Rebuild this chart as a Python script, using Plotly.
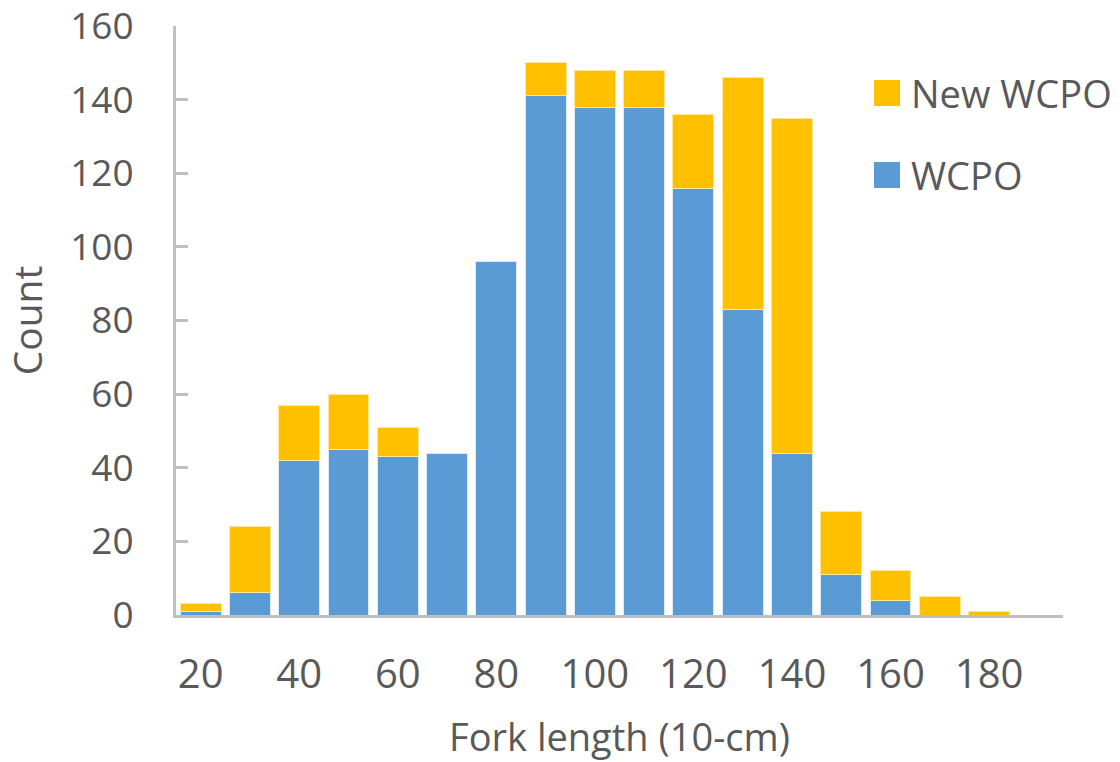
import plotly.graph_objects as go

fork_length = [20, 30, 40, 50, 60, 70, 80, 90, 100, 110, 120, 130, 140, 150, 160, 170, 180, 190]
wcpo =        [1, 6, 42, 45, 43, 44, 96, 141, 138, 138, 116, 83, 44, 11, 4, 0, 0, 0]
new_wcpo =    [2, 18, 15, 15, 8, 0, 0, 9, 10, 10, 20, 63, 91, 17, 8, 5, 1, 0]
x_ticks = [20, 40, 60, 80, 100, 120, 140, 160, 180]
y_ticks = [0, 20, 40, 60, 80, 100, 120, 140, 160]
series_names = ["New WCPO", "WCPO"]
series_colors = ["#FFC000", "#5B9BD5"]

txt = "#595959"
axc = "#BFBFBF"
font = "Open Sans"

fig = go.Figure()
fig.add_trace(go.Bar(x=fork_length, y=wcpo, name="WCPO", showlegend=False,
                     marker=dict(color="#5B9BD5", line=dict(color="#DDEBF7", width=1))))
fig.add_trace(go.Bar(x=fork_length, y=new_wcpo, name="New WCPO", showlegend=False,
                     marker=dict(color="#FFC000", line=dict(color="#FFE699", width=1))))

# manual legend (large swatches like the reference)
W, H = 1120, 762
ml, mr, mt, mb = 176, 57, 26, 147
pw, ph = W - ml - mr, H - mt - mb
def px(x): return (x - ml) / pw
def py(y): return 1 - (y - mt) / ph
for i, (nm, col) in enumerate(zip(series_names, series_colors)):
    top = 80 + i * 82
    fig.add_shape(type="rect", xref="paper", yref="paper",
                  x0=px(874), x1=px(900), y0=py(top + 26), y1=py(top),
                  fillcolor=col, line=dict(width=0))
    fig.add_annotation(xref="paper", yref="paper", x=px(909), y=py(top + 13),
                       xanchor="left", yanchor="middle", text=nm, showarrow=False,
                       font=dict(size=38, color=txt, family=font))

fig.update_layout(
    width=W, height=H,
    barmode="stack", bargap=0.17,
    plot_bgcolor="white", paper_bgcolor="white",
    margin=dict(l=ml, r=mr, t=mt, b=mb, autoexpand=False),
    font=dict(family=font, color=txt, size=34),
    showlegend=False,
    xaxis=dict(range=[15, 195], tickvals=x_ticks, ticktext=[str(v) for v in x_ticks],
               showline=True, linecolor=axc, linewidth=3, showgrid=False, zeroline=False,
               ticks="", ticklabelstandoff=22, automargin=False, ticklabeloverflow="allow",
               tickfont=dict(size=40, color=txt, family=font),
               title=dict(text="Fork length (10-cm)", font=dict(size=38, color=txt), standoff=26)),
    yaxis=dict(range=[0, 160.01], tickvals=y_ticks, ticktext=[str(v) for v in y_ticks],
               showline=True, linecolor=axc, linewidth=3, showgrid=False, zeroline=False,
               ticks="inside", ticklen=12, tickwidth=3, tickcolor=axc,
               ticklabelstandoff=32, automargin=False, ticklabeloverflow="allow",
               tickfont=dict(size=37, color=txt, family=font),
               title=dict(text="Count", font=dict(size=39, color=txt), standoff=26)),
)

fig.write_html("out.html")
